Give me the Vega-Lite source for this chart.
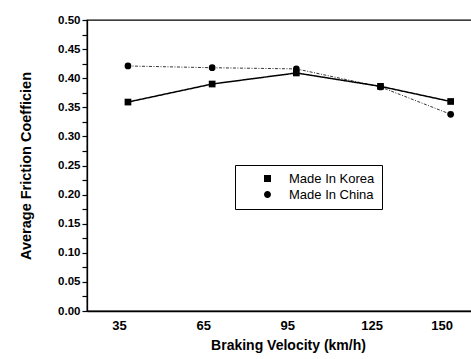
{
  "$schema": "https://vega.github.io/schema/vega-lite/v6.json",
  "autosize": {"type": "none"},
  "padding": {"left": 87, "top": 20, "right": 0, "bottom": 48},
  "width": 392,
  "height": 291,
  "background": "white",
  "config": {
    "view": {"stroke": "black", "strokeWidth": 1.3},
    "font": "Liberation Sans"
  },
  "data": {
    "values": [
      {"v": 35, "f": 0.359, "s": "Made In Korea"},
      {"v": 65, "f": 0.390, "s": "Made In Korea"},
      {"v": 95, "f": 0.409, "s": "Made In Korea"},
      {"v": 125, "f": 0.386, "s": "Made In Korea"},
      {"v": 150, "f": 0.360, "s": "Made In Korea"},
      {"v": 35, "f": 0.421, "s": "Made In China"},
      {"v": 65, "f": 0.418, "s": "Made In China"},
      {"v": 95, "f": 0.416, "s": "Made In China"},
      {"v": 125, "f": 0.385, "s": "Made In China"},
      {"v": 150, "f": 0.338, "s": "Made In China"}
    ]
  },
  "encoding": {
    "x": {
      "field": "v", "type": "quantitative",
      "scale": {"domain": [20.4, 160.1], "nice": false, "zero": false},
      "axis": {
        "values": [35, 65, 95, 125, 150],
        "title": "Braking Velocity (km/h)",
        "titleFont": "Liberation Sans", "titleFontSize": 14, "titleFontWeight": "bold",
        "titleColor": "black", "titlePadding": 6, "titleX": 201,
        "labelFont": "Liberation Sans", "labelFontSize": 13, "labelFontWeight": "bold",
        "labelColor": "black", "labelPadding": 8, "labelOffset": -9,
        "ticks": false, "grid": false, "domainColor": "black", "domainWidth": 1.3
      }
    },
    "y": {
      "field": "f", "type": "quantitative",
      "scale": {"domain": [0, 0.5], "nice": false},
      "axis": {
        "values": [0, 0.025, 0.05, 0.075, 0.1, 0.125, 0.15, 0.175, 0.2, 0.225, 0.25, 0.275, 0.3, 0.325, 0.35, 0.375, 0.4, 0.425, 0.45, 0.475, 0.5],
        "labelExpr": "round(datum.value*40) % 2 == 1 ? '' : format(datum.value, '.2f')",
        "title": "Average Friction Coefficien",
        "titleFont": "Liberation Sans", "titleFontSize": 14.5, "titleFontWeight": "bold",
        "titleColor": "black", "titlePadding": 24,
        "labelFont": "Liberation Sans", "labelFontSize": 11.5, "labelFontWeight": "bold",
        "labelColor": "black", "labelPadding": 2,
        "tickColor": "black", "tickSize": 5, "tickWidth": 1.2,
        "grid": false, "domainColor": "black", "domainWidth": 1.3,
        "encode": {
          "ticks": {"x2": {"value": {"expr": "round(datum.value*40) % 2 == 1 ? -3 : -5"}}}
        }
      }
    }
  },
  "layer": [
    {
      "mark": {"type": "line", "color": "black"},
      "encoding": {
        "detail": {"field": "s"},
        "strokeDash": {"field": "s", "type": "nominal", "legend": null,
          "scale": {"domain": ["Made In Korea", "Made In China"], "range": [[1, 0], [3, 1.5, 1, 1.5]]}},
        "strokeWidth": {"field": "s", "type": "nominal", "legend": null,
          "scale": {"domain": ["Made In Korea", "Made In China"], "range": [1.5, 0.8]}}
      }
    },
    {
      "mark": {"type": "point", "filled": true, "color": "black", "opacity": 1, "size": 45},
      "encoding": {
        "shape": {"field": "s", "type": "nominal", "legend": null,
          "scale": {"domain": ["Made In Korea", "Made In China"], "range": ["square", "circle"]}}
      }
    },
    {
      "mark": {"type": "point", "filled": false, "fill": "black", "stroke": "black", "strokeWidth": 1, "opacity": 1, "size": 0},
      "encoding": {
        "shape": {"field": "s", "type": "nominal",
          "scale": {"domain": ["Made In Korea", "Made In China"], "range": ["M0,0 L7.6,0 M3.1,-0.7 L4.5,-0.7 L4.5,0.7 L3.1,0.7 Z", "M0,0 L7.6,0 M3.1,0 A0.7,0.7 0 1,0 4.5,0 A0.7,0.7 0 1,0 3.1,0"]},
          "legend": {
            "title": null, "orient": "none", "legendX": 148, "legendY": 145,
            "strokeColor": "black", "fillColor": "white", "padding": 7,
            "labelFont": "Liberation Sans", "labelFontSize": 13, "labelColor": "black",
            "symbolSize": 100, "labelOffset": 34, "rowPadding": 2,
            "symbolStrokeColor": "black", "symbolStrokeWidth": 1, "symbolFillColor": "black"
          }
        }
      }
    }
  ],
  "resolve": {"scale": {"shape": "independent"}}
}
